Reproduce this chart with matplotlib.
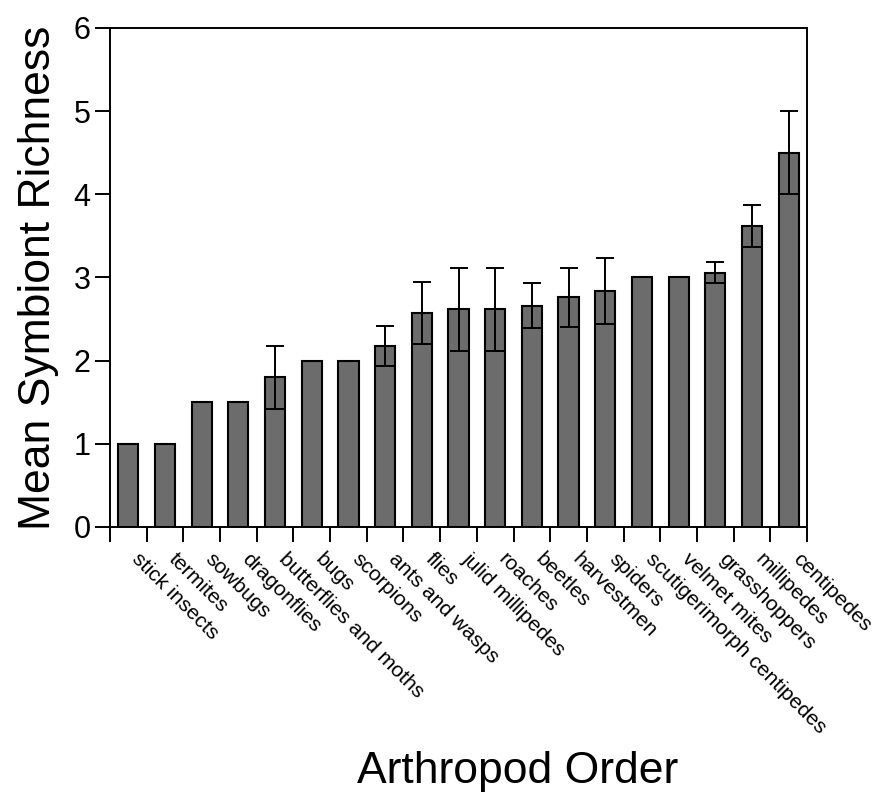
import numpy as np
import matplotlib
matplotlib.use('Agg')
import matplotlib.pyplot as plt

plt.rcParams['font.family'] = ['Liberation Sans', 'DejaVu Sans']

orders = ['stick insects', 'termites', 'sowbugs', 'dragonflies', 'butterflies and moths',
          'bugs', 'scorpions', 'ants and wasps', 'flies', 'julid millipedes', 'roaches',
          'beetles', 'harvestmen', 'spiders', 'scutigerimorph centipedes', 'velmet mites',
          'grasshoppers', 'millipedes', 'centipedes']
richness = [1.0, 1.0, 1.5, 1.5, 1.8, 2.0, 2.0, 2.18, 2.57, 2.62, 2.62, 2.66, 2.76, 2.84,
            3.0, 3.0, 3.06, 3.62, 4.5]
sem = [0, 0, 0, 0, 0.38, 0, 0, 0.24, 0.37, 0.5, 0.5, 0.27, 0.35, 0.4, 0, 0, 0.13, 0.25, 0.5]

x = np.arange(len(orders))
richness = np.array(richness)
sem = np.array(sem)

fig = plt.figure(figsize=(8.74, 7.92), dpi=100)
ax = fig.add_axes([110/874, 265/792, 697/874, 499/792])

ax.bar(x, richness, width=0.55, color='#6c6c6c', edgecolor='black', linewidth=1.5, zorder=2)
has_err = sem > 0
ax.errorbar(x[has_err], richness[has_err], yerr=sem[has_err], fmt='none', ecolor='black',
            elinewidth=1.4, capsize=6.5, capthick=1.4, zorder=3)

ax.set_xlim(-0.5, len(orders) - 0.5)
ax.set_ylim(0, 6)
ax.set_yticks(range(7))

# ticks at bar boundaries, labels at bar centres
ax.set_xticks(np.arange(len(orders) + 1) - 0.5)
ax.set_xticklabels([])
ax.set_xticks(x, minor=True)
ax.set_xticklabels(orders, minor=True, rotation=-45, ha='left', va='top', fontsize=15.2)
ax.tick_params(axis='x', which='major', direction='out', length=11, width=1.4)
ax.tick_params(axis='x', which='minor', length=0, pad=16)
ax.tick_params(axis='y', direction='out', length=11, width=1.4, labelsize=22, pad=3)

for s in ax.spines.values():
    s.set_linewidth(1.4)

ax.set_ylabel('Mean Symbiont Richness', fontsize=32)
ax.yaxis.set_label_coords(-0.073, 0.5)
fig.text(518/874, 0.011, 'Arthropod Order', ha='center', va='baseline', fontsize=32)

plt.savefig('out.png', dpi=100)
